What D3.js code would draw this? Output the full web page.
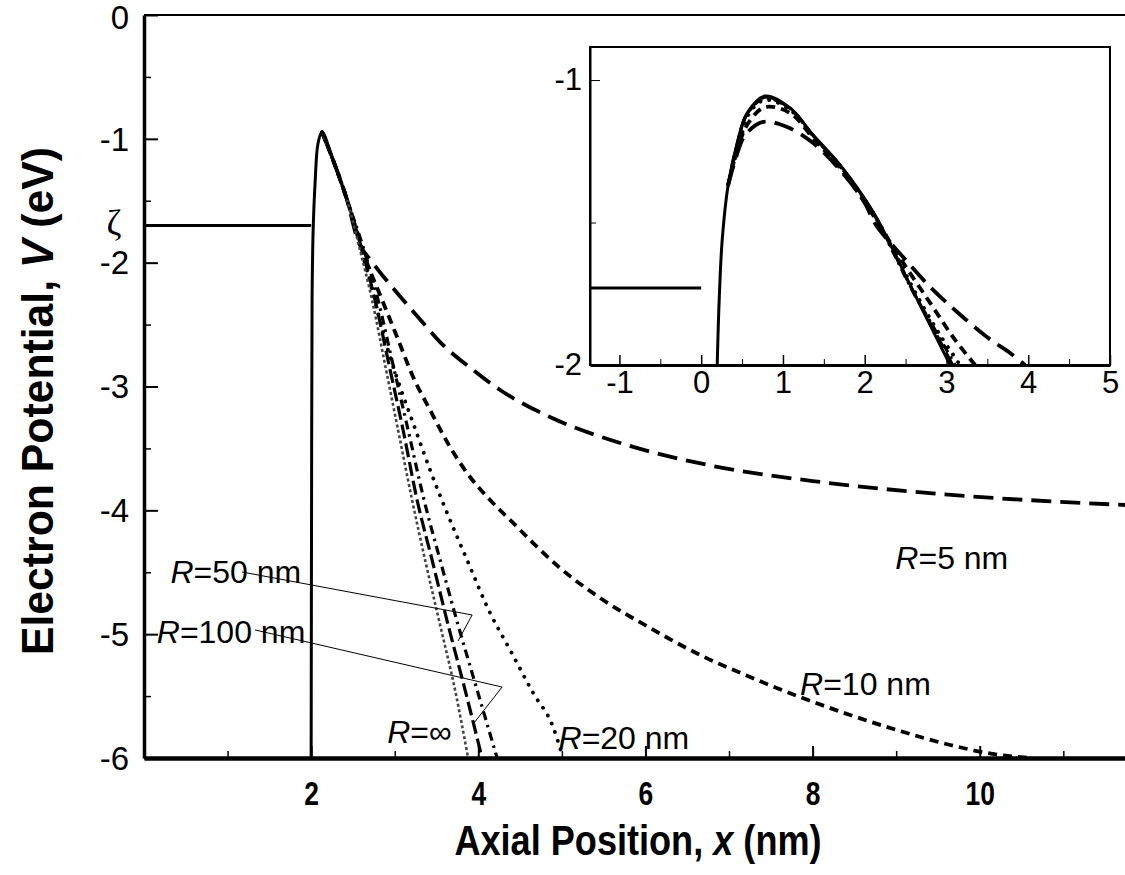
<!DOCTYPE html>
<html>
<head>
<meta charset="utf-8">
<script src="https://cdn.jsdelivr.net/npm/d3@7"></script>
<style>
body { margin: 0; background: #fff; }
svg text { font-family: "Liberation Sans", Arial, sans-serif; fill: #000; }
</style>
</head>
<body>
<div id="chart"></div>
<script>
// ---- main plot data (x in nm, V in eV) ----
var zetaLevel = -1.7;
var barrierRise = [[2.0,-6.0],[2.005,-3.92],[2.011,-2.30],[2.023,-1.761],[2.047,-1.357],[2.083,-1.034],[2.13,-0.945],[2.262,-1.171],[2.43,-1.494]];
var curveR5 = [[2.13,-0.945],[2.262,-1.171],[2.43,-1.494],[2.549,-1.801],[2.741,-2.003],[2.98,-2.205],[3.268,-2.431],[3.543,-2.641],[3.938,-2.867],[4.261,-3.028],[4.883,-3.254],[5.697,-3.456],[6.75,-3.634],[8.091,-3.771],[9.527,-3.868],[11.742,-3.957]];
var curveR10 = [[2.13,-0.945],[2.262,-1.171],[2.43,-1.494],[2.669,-2.003],[2.825,-2.261],[3.028,-2.6],[3.22,-2.923],[3.423,-3.19],[3.662,-3.489],[3.866,-3.699],[4.141,-3.917],[4.417,-4.102],[4.704,-4.296],[4.979,-4.466],[5.458,-4.708],[6.056,-4.95],[6.655,-5.168],[7.253,-5.346],[7.852,-5.508],[8.45,-5.653],[9.048,-5.782],[9.647,-5.895],[10.245,-5.976],[10.605,-6.0]];
var curveR20 = [[2.13,-0.945],[2.262,-1.171],[2.43,-1.494],[2.585,-1.857],[2.729,-2.221],[2.885,-2.625],[3.064,-3.004],[3.22,-3.295],[3.423,-3.674],[3.627,-4.022],[3.866,-4.401],[4.141,-4.829],[4.381,-5.128],[4.656,-5.475],[4.895,-5.75],[5.015,-6.0]];
var curveR50 = [[2.13,-0.945],[2.262,-1.171],[2.43,-1.494],[2.633,-1.898],[2.801,-2.302],[2.98,-2.826],[3.16,-3.351],[3.351,-3.917],[3.543,-4.401],[3.758,-4.926],[3.986,-5.451],[4.225,-6.0]];
var curveR100 = [[2.13,-0.945],[2.262,-1.171],[2.43,-1.494],[2.609,-1.898],[2.765,-2.302],[2.932,-2.826],[3.1,-3.351],[3.268,-3.917],[3.447,-4.401],[3.639,-4.926],[3.842,-5.451],[4.045,-6.0]];
var curveRinf = [[2.13,-0.945],[2.262,-1.171],[2.43,-1.494],[2.585,-1.898],[2.729,-2.302],[2.885,-2.826],[3.04,-3.351],[3.208,-3.917],[3.363,-4.401],[3.543,-4.926],[3.722,-5.451],[3.878,-6.0]];

var xTickLabels = [2, 4, 6, 8, 10];
var xMinorTicks = [1, 3, 5, 7, 9, 11];
var yTickLabels = [0, -1, -2, -3, -4, -5, -6];
var yMinorTicks = [-0.5, -1.5, -2.5, -3.5, -4.5, -5.5];

// labels: text, anchor point [x, V], pointer polyline
var curveLabels = [
  { name: "5 nm",   at: [8.99, -4.47] },
  { name: "10 nm",  at: [7.85, -5.49] },
  { name: "20 nm",  at: [4.96, -5.93] },
  { name: "∞",      at: [2.91, -5.88] },
  { name: "50 nm",  at: [1.88, -4.59], anchor: "end", pointer: [[1.173,-4.498],[3.926,-4.845],[3.758,-5.055]] },
  { name: "100 nm", at: [1.93, -5.07], anchor: "end", pointer: [[1.329,-4.966],[4.285,-5.427],[3.938,-5.726]] }
];

// ---- inset data ----
var insetZeta = [[-1.36,-1.73],[0,-1.73]];
var insetRinf = [[0.196,-2.0],[0.22,-1.772],[0.257,-1.561],[0.33,-1.368],[0.44,-1.221],[0.562,-1.116],[0.782,-1.056],[1.088,-1.098],[1.369,-1.193],[1.699,-1.298],[2.103,-1.463],[2.347,-1.596],[2.555,-1.719],[2.8,-1.86],[3.044,-2.0]];
var insetR5 = [[0.33,-1.368],[0.416,-1.281],[0.538,-1.193],[0.758,-1.147],[1.051,-1.165],[1.369,-1.221],[1.699,-1.316],[1.98,-1.421],[2.139,-1.509],[2.469,-1.621],[2.8,-1.726],[3.13,-1.814],[3.496,-1.902],[3.778,-1.958],[3.961,-2.0]];
var insetR10 = [[0.33,-1.368],[0.44,-1.246],[0.575,-1.151],[0.782,-1.095],[1.088,-1.116],[1.369,-1.204],[1.699,-1.309],[2.103,-1.474],[2.433,-1.625],[2.8,-1.782],[3.105,-1.912],[3.35,-2.0]];
var insetR20 = [[0.33,-1.368],[0.477,-1.211],[0.599,-1.112],[0.782,-1.07],[1.088,-1.105],[1.369,-1.196],[1.699,-1.302],[2.103,-1.467],[2.372,-1.607],[2.616,-1.744],[2.922,-1.895],[3.166,-2.0]];
var insetR50 = [[0.33,-1.368],[0.44,-1.228],[0.562,-1.119],[0.782,-1.063],[1.088,-1.102],[1.369,-1.196],[1.699,-1.302],[2.103,-1.467],[2.347,-1.604],[2.579,-1.737],[2.861,-1.877],[3.105,-2.0]];
var insetR100 = [[0.33,-1.368],[0.44,-1.225],[0.562,-1.118],[0.782,-1.06],[1.088,-1.1],[1.369,-1.195],[1.699,-1.3],[2.103,-1.465],[2.347,-1.6],[2.567,-1.728],[2.83,-1.868],[3.075,-2.0]];
var insetXTicks = [-1, 0, 1, 2, 3, 4, 5];
var insetXMinor = [-0.5, 0.5, 1.5, 2.5, 3.5, 4.5];
var insetYTicks = [-1, -2];
var insetYMinor = [-1.5];

// line styles per series
var styles = {
  rise: { dash: null, w: 3 },
  R5:   { dash: "20,9", w: 3.8 },
  R10:  { dash: "9,6", w: 3.8 },
  R20:  { dash: "0.1,9", w: 3.8, cap: "round" },
  R50:  { dash: "9,5,2.5,5", w: 3.2 },
  R100: { dash: "14,5", w: 3.2 },
  Rinf: { dash: "3,2.5", w: 2.6, color: "#444" }
};

var W = 1125, H = 875;
var svg = d3.select("#chart").append("svg").attr("width", W).attr("height", H);

var x = d3.scaleLinear().domain([0, 11.75]).range([144, 1126]);
var y = d3.scaleLinear().domain([-6, 0]).range([758, 15]);

svg.append("clipPath").attr("id", "mainclip").append("rect")
  .attr("x", x(0)).attr("y", y(0)).attr("width", x(11.75) - x(0)).attr("height", y(-6) - y(0) + 2);

var line = d3.line().x(function(d){ return x(d[0]); }).y(function(d){ return y(d[1]); }).curve(d3.curveMonotoneX);
var riseLine = d3.line().x(function(d){ return x(d[0]); }).y(function(d){ return y(d[1]); }).curve(d3.curveCatmullRom);

function drawSeries(g, gen, data, st) {
  g.append("path").datum(data)
    .attr("d", gen)
    .attr("fill", "none")
    .attr("stroke", st.color || "#000")
    .attr("stroke-width", st.w)
    .attr("stroke-dasharray", st.dash)
    .attr("stroke-linecap", st.cap || "butt")
    .attr("stroke-linejoin", "round");
}

var plot = svg.append("g").attr("clip-path", "url(#mainclip)");
// zeta level
plot.append("line").attr("x1", x(0)).attr("x2", x(2.0)).attr("y1", y(zetaLevel)).attr("y2", y(zetaLevel))
  .attr("stroke", "#000").attr("stroke-width", 3);
drawSeries(plot, line, curveR5, styles.R5);
drawSeries(plot, line, curveR10, styles.R10);
drawSeries(plot, line, curveR20, styles.R20);
drawSeries(plot, line, curveR100, styles.R100);
drawSeries(plot, line, curveR50, styles.R50);
drawSeries(plot, line, curveRinf, styles.Rinf);
drawSeries(plot, riseLine, barrierRise, styles.rise);

// top frame line
svg.append("line").attr("x1", x(0)).attr("x2", x(11.75)).attr("y1", y(0)).attr("y2", y(0))
  .attr("stroke", "#000").attr("stroke-width", 2);

// y axis
var yAxis = svg.append("g").attr("transform", "translate(" + x(0) + ",0)")
  .call(d3.axisLeft(y).tickValues(yTickLabels).tickSize(-14).tickSizeOuter(0).tickPadding(15)
    .tickFormat(function(d){ return String(d); }));
yAxis.select(".domain").attr("stroke-width", 3.5);
yAxis.selectAll(".tick line").attr("stroke-width", 2);
yAxis.selectAll(".tick text").attr("font-size", 33).attr("font-family", "Liberation Sans, Arial, sans-serif")
  .attr("dy", function(d){ return d === 0 ? "0.4em" : "0.34em"; });
var yMinor = svg.append("g").attr("transform", "translate(" + x(0) + ",0)")
  .call(d3.axisLeft(y).tickValues(yMinorTicks).tickSize(-7).tickFormat(""));
yMinor.select(".domain").remove();
yMinor.selectAll(".tick line").attr("stroke-width", 1.5);

// zeta mark on the y axis
svg.append("text").attr("x", 114).attr("y", y(zetaLevel) + 9).attr("text-anchor", "middle")
  .style("font-family", "Liberation Serif, serif").attr("font-size", 36).text("ζ");

// x axis
var xAxis = svg.append("g").attr("transform", "translate(0," + y(-6) + ")")
  .call(d3.axisBottom(x).tickValues(xTickLabels).tickSize(-12).tickSizeOuter(0).tickPadding(24));
xAxis.select(".domain").attr("stroke-width", 4.5);
xAxis.selectAll(".tick line").attr("stroke-width", 2);
xAxis.selectAll(".tick text").attr("font-size", 33).attr("font-weight", "bold")
  .attr("transform", "scale(0.8,1)");
var xMinor = svg.append("g").attr("transform", "translate(0," + y(-6) + ")")
  .call(d3.axisBottom(x).tickValues(xMinorTicks).tickSize(-7).tickFormat(""));
xMinor.select(".domain").remove();
xMinor.selectAll(".tick line").attr("stroke-width", 1.5);

// axis titles (narrowed a little, like the source figure)
var yTitle = svg.append("text").attr("transform", "translate(53,401) rotate(-90) scale(0.95,1)")
  .attr("text-anchor", "middle").attr("font-size", 45).attr("font-weight", "bold");
yTitle.append("tspan").text("Electron Potential, ");
yTitle.append("tspan").attr("font-style", "italic").text("V");
yTitle.append("tspan").text(" (eV)");

var xTitle = svg.append("text").attr("transform", "translate(638,855) scale(0.86,1)")
  .attr("text-anchor", "middle").attr("font-size", 42).attr("font-weight", "bold");
xTitle.append("tspan").text("Axial Position, ");
xTitle.append("tspan").attr("font-style", "italic").text("x");
xTitle.append("tspan").text(" (nm)");

// curve labels with pointers
curveLabels.forEach(function(c) {
  if (c.pointer) {
    svg.append("path").datum(c.pointer)
      .attr("d", d3.line().x(function(d){ return x(d[0]); }).y(function(d){ return y(d[1]); }))
      .attr("fill", "none").attr("stroke", "#000").attr("stroke-width", 1);
  }
  var t = svg.append("text").attr("x", x(c.at[0])).attr("y", y(c.at[1]))
    .attr("font-size", 32).attr("text-anchor", c.anchor || "start");
  t.append("tspan").attr("font-style", "italic").text("R");
  t.append("tspan").text("=" + c.name);
});

// ---- inset ----
var xi = d3.scaleLinear().domain([-1.36, 5]).range([590, 1110]);
var yi = d3.scaleLinear().domain([-2, -0.884]).range([365, 47]);

svg.append("rect").attr("x", xi(-1.36)).attr("y", yi(-0.884))
  .attr("width", xi(5) - xi(-1.36)).attr("height", yi(-2) - yi(-0.884))
  .attr("fill", "#fff").attr("stroke", "#000").attr("stroke-width", 2);
svg.append("clipPath").attr("id", "insetclip").append("rect")
  .attr("x", xi(-1.36)).attr("y", yi(-0.884)).attr("width", xi(5) - xi(-1.36)).attr("height", yi(-2) - yi(-0.884));

var iline = d3.line().x(function(d){ return xi(d[0]); }).y(function(d){ return yi(d[1]); }).curve(d3.curveCatmullRom);
var inset = svg.append("g").attr("clip-path", "url(#insetclip)");
drawSeries(inset, iline, insetZeta, { dash: null, w: 3 });
drawSeries(inset, iline, insetR5, styles.R5);
drawSeries(inset, iline, insetR10, styles.R10);
drawSeries(inset, iline, insetR20, styles.R20);
drawSeries(inset, iline, insetR100, styles.R100);
drawSeries(inset, iline, insetR50, styles.R50);
drawSeries(inset, iline, insetRinf, { dash: null, w: 3 });

var ixAxis = svg.append("g").attr("transform", "translate(0," + yi(-2) + ")")
  .call(d3.axisBottom(xi).tickValues(insetXTicks).tickSize(-10).tickSizeOuter(0).tickPadding(6)
    .tickFormat(function(d){ return String(d); }));
ixAxis.select(".domain").attr("stroke-width", 3);
ixAxis.selectAll(".tick line").attr("stroke-width", 1.5);
ixAxis.selectAll(".tick text").attr("font-size", 31);
var ixMinor = svg.append("g").attr("transform", "translate(0," + yi(-2) + ")")
  .call(d3.axisBottom(xi).tickValues(insetXMinor).tickSize(-6).tickFormat(""));
ixMinor.select(".domain").remove();

var iyAxis = svg.append("g").attr("transform", "translate(" + xi(-1.36) + ",0)")
  .call(d3.axisLeft(yi).tickValues(insetYTicks).tickSize(-10).tickSizeOuter(0).tickPadding(8)
    .tickFormat(function(d){ return String(d); }));
iyAxis.select(".domain").attr("stroke-width", 2);
iyAxis.selectAll(".tick text").attr("font-size", 31);
var iyMinor = svg.append("g").attr("transform", "translate(" + xi(-1.36) + ",0)")
  .call(d3.axisLeft(yi).tickValues(insetYMinor).tickSize(-6).tickFormat(""));
iyMinor.select(".domain").remove();
</script>
</body>
</html>
